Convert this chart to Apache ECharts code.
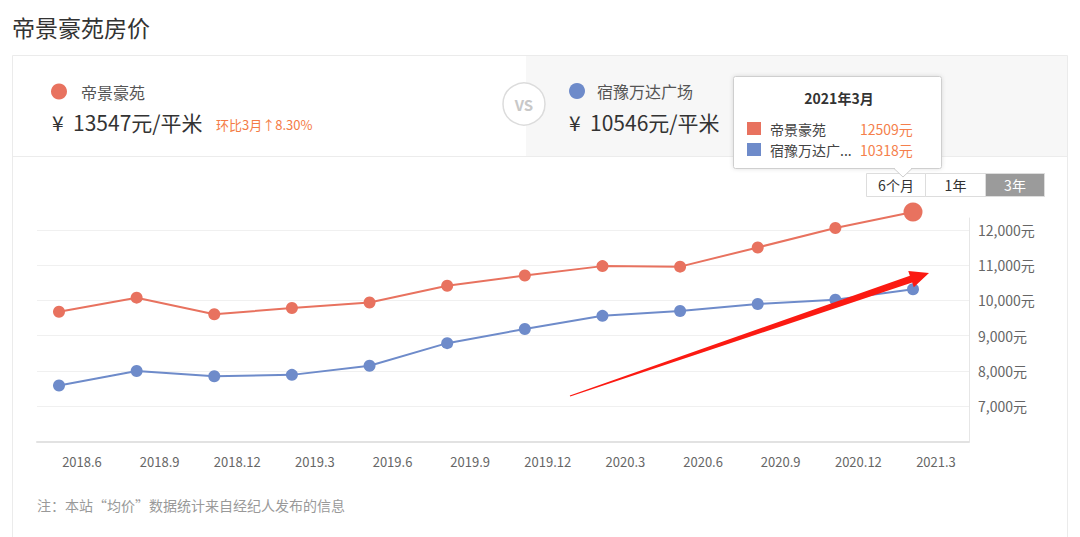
<!DOCTYPE html>
<html>
<head>
<meta charset="utf-8">
<script src="https://cdn.jsdelivr.net/npm/echarts@6/dist/echarts.min.js"></script>
<style>
html,body{margin:0;padding:0;background:#fff;}
#chart{width:1080px;height:537px;}
</style>
</head>
<body>
<div id="chart"></div>
<script>
// ---------- data ----------
var categories = ['2018.6','2018.9','2018.12','2019.3','2019.6','2019.9','2019.12','2020.3','2020.6','2020.9','2020.12','2021.3'];
var seriesNames = ['帝景豪苑', '宿豫万达广场'];
var dijingValues = [9680, 10080, 9610, 9785, 9945, 10420, 10710, 10975, 10960, 11505, 12055, 12509];
var suyuValues   = [7590, 8000, 7850, 7890, 8150, 8790, 9190, 9565, 9700, 9900, 10020, 10318];
var currentPrices = [13547, 10546];
var momChange = ['8.30%'];
var tooltipTitle = '2021年3月';
var rangeButtons = ['6个月', '1年', '3年'];
var chartTitle = '帝景豪苑房价';
var footnote = '注：本站“均价”数据统计来自经纪人发布的信息';

// ---------- style ----------
var FONT = "'Noto Sans CJK SC', 'Noto Sans', sans-serif";
var ORANGE = '#e8725f';
var BLUE = '#6e8bca';
var VALUE_ORANGE = '#f57f4c';
var Y_MIN = 6000, Y_MAX = 12340;

var chart = echarts.init(document.getElementById('chart'), null, {renderer: 'svg'});

function fmt(v) { return String(v).replace(/\B(?=(\d{3})+(?!\d))/g, ','); }

// arrow annotation polygon (pixel layout)
function arrowPoints(x0, y0, x1, y1) {
  var dx = x1 - x0, dy = y1 - y0, L = Math.sqrt(dx*dx + dy*dy);
  var ux = dx / L, uy = dy / L, nx = -uy, ny = ux;
  var headLen = 19, headW = 8.5, shaftW = 3.6, tailW = 0.6;
  var bx = x1 - ux * headLen, by = y1 - uy * headLen;
  return [
    [x0 + nx*tailW, y0 + ny*tailW],
    [bx + nx*shaftW, by + ny*shaftW],
    [bx + nx*headW, by + ny*headW],
    [x1, y1],
    [bx - nx*headW, by - ny*headW],
    [bx - nx*shaftW, by - ny*shaftW],
    [x0 - nx*tailW, y0 - ny*tailW]
  ];
}

var last = categories.length - 1;
var graphics = [
  {type:'text', x:12, y:27, style:{text: chartTitle, font:'23px ' + FONT, fill:'#333', textVerticalAlign:'middle'}},
  {type:'rect', shape:{x:12.5, y:55.5, width:1055, height:520}, style:{fill:'none', stroke:'#ebebeb', lineWidth:1}},
  {type:'rect', shape:{x:526, y:56, width:541, height:100}, style:{fill:'#f7f7f7'}},
  {type:'line', shape:{x1:13, y1:156.5, x2:1067, y2:156.5}, style:{stroke:'#ececec', lineWidth:1}},
  {type:'circle', shape:{cx:524, cy:104, r:21}, style:{fill:'#fff', stroke:'#dcdcdc', lineWidth:1.5}},
  {type:'text', x:524, y:104, style:{text:'VS', font:'bold 15px ' + FONT, fill:'#c8c8c8', textAlign:'center', textVerticalAlign:'middle'}},
  // left header
  {type:'circle', shape:{cx:59, cy:91.5, r:8}, style:{fill:ORANGE}},
  {type:'text', x:81, y:91.5, style:{text: seriesNames[0], font:'16px ' + FONT, fill:'#555', textVerticalAlign:'middle'}},
  {type:'text', x:52, y:122, style:{text:'¥  ' + currentPrices[0] + '元/平米', font:'21px ' + FONT, fill:'#333', textVerticalAlign:'middle'}},
  {type:'text', x:216, y:124, style:{text:'环比3月↑' + momChange[0], font:'13px ' + FONT, fill:'#f47b45', textVerticalAlign:'middle'}},
  // right header
  {type:'circle', shape:{cx:577, cy:91, r:8}, style:{fill:BLUE}},
  {type:'text', x:597, y:91, style:{text: seriesNames[1], font:'16px ' + FONT, fill:'#555', textVerticalAlign:'middle'}},
  {type:'text', x:569, y:122, style:{text:'¥  ' + currentPrices[1] + '元/平米', font:'21px ' + FONT, fill:'#333', textVerticalAlign:'middle'}},
  // buttons
  {type:'rect', shape:{x:866.5, y:173.5, width:59, height:23}, style:{fill:'#fff', stroke:'#dddddd'}},
  {type:'rect', shape:{x:925.5, y:173.5, width:60, height:23}, style:{fill:'#fff', stroke:'#dddddd'}},
  {type:'rect', shape:{x:985.5, y:173.5, width:59, height:23}, style:{fill:'#9b9b9b', stroke:'#dddddd'}},
  {type:'text', x:896, y:185, style:{text: rangeButtons[0], font:'14px ' + FONT, fill:'#333', textAlign:'center', textVerticalAlign:'middle'}},
  {type:'text', x:955.5, y:185, style:{text: rangeButtons[1], font:'14px ' + FONT, fill:'#333', textAlign:'center', textVerticalAlign:'middle'}},
  {type:'text', x:1015, y:185, style:{text: rangeButtons[2], font:'14px ' + FONT, fill:'#fff', textAlign:'center', textVerticalAlign:'middle'}},
  // tooltip
  {type:'group', z:200, children:[
    {type:'rect', shape:{x:733.5, y:76.5, width:208, height:92, r:2}, style:{fill:'#fff', stroke:'#cfcfcf', lineWidth:1, shadowBlur:4, shadowColor:'rgba(0,0,0,0.12)'}},
    {type:'polygon', shape:{points:[[894,168.5],[912,168.5],[903,177]]}, style:{fill:'#fff', stroke:'#cfcfcf', lineWidth:1}},
    {type:'rect', shape:{x:895, y:166, width:16, height:3}, style:{fill:'#fff'}},
    {type:'text', x:839, y:98, style:{text: tooltipTitle, font:'bold 14px ' + FONT, fill:'#333', textAlign:'center', textVerticalAlign:'middle'}},
    {type:'rect', shape:{x:747, y:122, width:14, height:13}, style:{fill:ORANGE}},
    {type:'rect', shape:{x:747, y:143, width:14, height:13}, style:{fill:BLUE}},
    {type:'text', x:770, y:128.5, style:{text: seriesNames[0], font:'14px ' + FONT, fill:'#444', textVerticalAlign:'middle'}},
    {type:'text', x:770, y:149.5, style:{text: seriesNames[1].slice(0,5) + '...', font:'14px ' + FONT, fill:'#444', textVerticalAlign:'middle'}},
    {type:'text', x:860, y:128.5, style:{text: dijingValues[last] + '元', font:'14px ' + FONT, fill:VALUE_ORANGE, textVerticalAlign:'middle'}},
    {type:'text', x:860, y:149.5, style:{text: suyuValues[last] + '元', font:'14px ' + FONT, fill:VALUE_ORANGE, textVerticalAlign:'middle'}}
  ]},
  // arrow annotation
  {type:'polygon', z:150, shape:{points: arrowPoints(570, 396, 929, 273)}, style:{fill:'#fb1a12'}},
  // footnote
  {type:'text', x:37, y:505, style:{text: footnote, font:'14px ' + FONT, fill:'#999', textVerticalAlign:'middle'}}
];

var option = {
  animation: false,
  textStyle: {fontFamily: FONT},
  grid: [
    {left:37, right:111, top:218, bottom:95.5},
    {left:59, right:167, top:218, bottom:95.5}
  ],
  xAxis: [
    {type:'category', gridIndex:0, data:categories, boundaryGap:false,
     axisLine:{show:true, lineStyle:{color:'#e2e2e2', width:2}}, axisTick:{show:false}, axisLabel:{show:false}, splitLine:{show:false}},
    {type:'category', gridIndex:1, data:categories, boundaryGap:false,
     axisLine:{show:false}, axisTick:{show:false}, splitLine:{show:false},
     axisLabel:{show:true, interval:0, color:'#666', fontSize:13, margin:13, padding:[0,0,0,46], fontFamily:FONT}}
  ],
  yAxis: [
    {type:'value', gridIndex:0, position:'right', min:Y_MIN, max:Y_MAX, interval:1000,
     axisLine:{show:true, lineStyle:{color:'#e6e6e6', width:1}}, axisTick:{show:false},
     splitLine:{show:true, showMinLine:false, showMaxLine:false, lineStyle:{color:'#f0f0f0', width:1}},
     axisLabel:{show:true, showMinLabel:false, showMaxLabel:false, color:'#666', fontSize:14, margin:9, fontFamily:FONT,
       formatter: function(v){ return fmt(v) + '元'; }}},
    {type:'value', gridIndex:1, min:Y_MIN, max:Y_MAX, show:false}
  ],
  series: [
    {name: seriesNames[0], type:'line', xAxisIndex:1, yAxisIndex:1, data: dijingValues, clip:false,
     symbol:'circle', symbolSize:function(v, p){ return p.dataIndex === last ? 19 : 12; },
     lineStyle:{color:ORANGE, width:2}, itemStyle:{color:ORANGE}, z:3},
    {name: seriesNames[1], type:'line', xAxisIndex:1, yAxisIndex:1, data: suyuValues, clip:false,
     symbol:'circle', symbolSize:12,
     lineStyle:{color:BLUE, width:2}, itemStyle:{color:BLUE}, z:2}
  ],
  graphic: graphics
};
chart.setOption(option);
</script>
</body>
</html>
